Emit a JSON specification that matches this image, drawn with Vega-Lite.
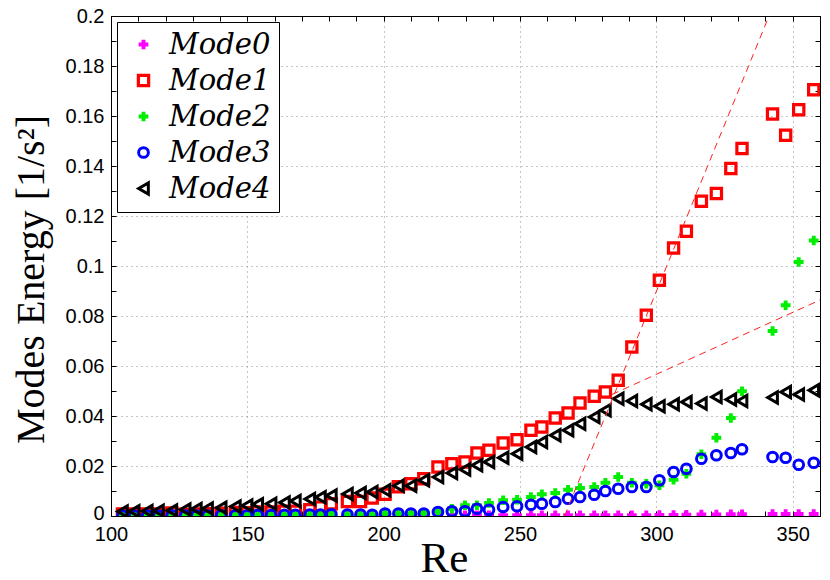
{
  "$schema": "https://vega.github.io/schema/vega-lite/v6.json",
  "width": 709,
  "height": 500,
  "autosize": "none",
  "padding": {"left": 111, "top": 16, "right": 10, "bottom": 64},
  "background": "white",
  "config": {
    "view": {"stroke": "black", "strokeWidth": 1},
    "axis": {
      "labelFont": "Liberation Sans",
      "labelFontSize": 20,
      "labelColor": "black",
      "titleFont": "Liberation Serif",
      "titleFontWeight": "normal",
      "titleColor": "black",
      "domainColor": "black",
      "tickColor": "black",
      "gridColor": "#8c8c8c",
      "gridDash": [1, 4],
      "labelOverlap": false,
      "labelFlush": false
    }
  },
  "layer": [
    {
      "data": {
        "values": [
          {"re":104.2,"mode":"Mode0","e":0.0001},{"re":108.5,"mode":"Mode0","e":0.0001},{"re":113.3,"mode":"Mode0","e":0.0001},{"re":117.4,"mode":"Mode0","e":0.0001},{"re":122.3,"mode":"Mode0","e":0.0001},{"re":127.2,"mode":"Mode0","e":0.0001},{"re":131.3,"mode":"Mode0","e":0.0001},{"re":135.4,"mode":"Mode0","e":0.0001},{"re":140.4,"mode":"Mode0","e":0.0001},{"re":145.6,"mode":"Mode0","e":0.0001},{"re":149.9,"mode":"Mode0","e":0.0001},{"re":153.8,"mode":"Mode0","e":0.0001},{"re":158.7,"mode":"Mode0","e":0.0001},{"re":163.6,"mode":"Mode0","e":0.0001},{"re":167.6,"mode":"Mode0","e":0.0001},{"re":172.9,"mode":"Mode0","e":0.0001},{"re":176.8,"mode":"Mode0","e":0.0001},{"re":180.8,"mode":"Mode0","e":0.0001},{"re":186.7,"mode":"Mode0","e":0.0001},{"re":191.5,"mode":"Mode0","e":0.0001},{"re":195.8,"mode":"Mode0","e":0.0001},{"re":200.5,"mode":"Mode0","e":0.0002},{"re":205.4,"mode":"Mode0","e":0.0002},{"re":210,"mode":"Mode0","e":0.0002},{"re":214.7,"mode":"Mode0","e":0.0002},{"re":219.9,"mode":"Mode0","e":0.0003},{"re":225,"mode":"Mode0","e":0.0003},{"re":229.8,"mode":"Mode0","e":0.0003},{"re":234.2,"mode":"Mode0","e":0.0003},{"re":238.6,"mode":"Mode0","e":0.0003},{"re":243.8,"mode":"Mode0","e":0.0003},{"re":248.9,"mode":"Mode0","e":0.0003},{"re":254,"mode":"Mode0","e":0.0003},{"re":258,"mode":"Mode0","e":0.0003},{"re":262.9,"mode":"Mode0","e":0.0003},{"re":267.6,"mode":"Mode0","e":0.0003},{"re":272,"mode":"Mode0","e":0.0003},{"re":277.2,"mode":"Mode0","e":0.0003},{"re":281.3,"mode":"Mode0","e":0.0003},{"re":286,"mode":"Mode0","e":0.0003},{"re":291,"mode":"Mode0","e":0.0003},{"re":296.3,"mode":"Mode0","e":0.0003},{"re":301.1,"mode":"Mode0","e":0.0004},{"re":306.3,"mode":"Mode0","e":0.0004},{"re":311,"mode":"Mode0","e":0.0005},{"re":316.5,"mode":"Mode0","e":0.0006},{"re":322,"mode":"Mode0","e":0.0006},{"re":327.3,"mode":"Mode0","e":0.0007},{"re":331.4,"mode":"Mode0","e":0.0007},{"re":342.6,"mode":"Mode0","e":0.0008},{"re":347.4,"mode":"Mode0","e":0.0008},{"re":352.2,"mode":"Mode0","e":0.0008},{"re":357.7,"mode":"Mode0","e":0.0008},

          {"re":104.2,"mode":"Mode1","e":0.0008},{"re":108.5,"mode":"Mode1","e":0.0008},{"re":113.3,"mode":"Mode1","e":0.0008},{"re":117.4,"mode":"Mode1","e":0.0008},{"re":122.3,"mode":"Mode1","e":0.0012},{"re":127.2,"mode":"Mode1","e":0.0007},{"re":131.3,"mode":"Mode1","e":0.0008},{"re":135.4,"mode":"Mode1","e":0.0009},{"re":140.4,"mode":"Mode1","e":0.0011},{"re":145.6,"mode":"Mode1","e":0.0014},{"re":149.9,"mode":"Mode1","e":0.0013},{"re":153.8,"mode":"Mode1","e":0.0016},{"re":158.7,"mode":"Mode1","e":0.0016},{"re":163.6,"mode":"Mode1","e":0.0019},{"re":167.6,"mode":"Mode1","e":0.0019},{"re":172.9,"mode":"Mode1","e":0.0025},{"re":176.8,"mode":"Mode1","e":0.0036},{"re":180.8,"mode":"Mode1","e":0.0049},{"re":186.7,"mode":"Mode1","e":0.0058},{"re":191.5,"mode":"Mode1","e":0.0058},{"re":195.8,"mode":"Mode1","e":0.0072},{"re":200.5,"mode":"Mode1","e":0.0087},{"re":205.4,"mode":"Mode1","e":0.0117},{"re":210,"mode":"Mode1","e":0.0129},{"re":214.7,"mode":"Mode1","e":0.0149},{"re":219.9,"mode":"Mode1","e":0.0196},{"re":225,"mode":"Mode1","e":0.0209},{"re":229.8,"mode":"Mode1","e":0.0216},{"re":234.2,"mode":"Mode1","e":0.0252},{"re":238.6,"mode":"Mode1","e":0.0263},{"re":243.8,"mode":"Mode1","e":0.0292},{"re":248.9,"mode":"Mode1","e":0.0305},{"re":254,"mode":"Mode1","e":0.0343},{"re":258,"mode":"Mode1","e":0.0356},{"re":262.9,"mode":"Mode1","e":0.0392},{"re":267.6,"mode":"Mode1","e":0.0412},{"re":272,"mode":"Mode1","e":0.0452},{"re":277.2,"mode":"Mode1","e":0.0479},{"re":281.3,"mode":"Mode1","e":0.0496},{"re":286,"mode":"Mode1","e":0.0543},{"re":291,"mode":"Mode1","e":0.0676},{"re":296.3,"mode":"Mode1","e":0.0803},{"re":301.1,"mode":"Mode1","e":0.0943},{"re":306.3,"mode":"Mode1","e":0.1072},{"re":311,"mode":"Mode1","e":0.1139},{"re":316.5,"mode":"Mode1","e":0.1259},{"re":322,"mode":"Mode1","e":0.129},{"re":327.3,"mode":"Mode1","e":0.139},{"re":331.4,"mode":"Mode1","e":0.147},{"re":342.6,"mode":"Mode1","e":0.1608},{"re":347.4,"mode":"Mode1","e":0.1523},{"re":352.2,"mode":"Mode1","e":0.1625},{"re":357.7,"mode":"Mode1","e":0.1705},

          {"re":104.2,"mode":"Mode2","e":0.0003},{"re":108.5,"mode":"Mode2","e":0.0003},{"re":113.3,"mode":"Mode2","e":0.0003},{"re":117.4,"mode":"Mode2","e":0.0003},{"re":122.3,"mode":"Mode2","e":0.0004},{"re":127.2,"mode":"Mode2","e":0.0003},{"re":131.3,"mode":"Mode2","e":0.0003},{"re":135.4,"mode":"Mode2","e":0.0003},{"re":140.4,"mode":"Mode2","e":0.0004},{"re":145.6,"mode":"Mode2","e":0.0005},{"re":149.9,"mode":"Mode2","e":0.0004},{"re":153.8,"mode":"Mode2","e":0.0005},{"re":158.7,"mode":"Mode2","e":0.0005},{"re":163.6,"mode":"Mode2","e":0.0006},{"re":167.6,"mode":"Mode2","e":0.0006},{"re":172.9,"mode":"Mode2","e":0.0006},{"re":176.8,"mode":"Mode2","e":0.0006},{"re":180.8,"mode":"Mode2","e":0.0007},{"re":186.7,"mode":"Mode2","e":0.0006},{"re":191.5,"mode":"Mode2","e":0.0006},{"re":195.8,"mode":"Mode2","e":0.0006},{"re":200.5,"mode":"Mode2","e":0.001},{"re":205.4,"mode":"Mode2","e":0.001},{"re":210,"mode":"Mode2","e":0.001},{"re":214.7,"mode":"Mode2","e":0.0012},{"re":219.9,"mode":"Mode2","e":0.0018},{"re":225,"mode":"Mode2","e":0.0029},{"re":229.8,"mode":"Mode2","e":0.0043},{"re":234.2,"mode":"Mode2","e":0.0043},{"re":238.6,"mode":"Mode2","e":0.0052},{"re":243.8,"mode":"Mode2","e":0.0063},{"re":248.9,"mode":"Mode2","e":0.0065},{"re":254,"mode":"Mode2","e":0.0076},{"re":258,"mode":"Mode2","e":0.0087},{"re":262.9,"mode":"Mode2","e":0.0092},{"re":267.6,"mode":"Mode2","e":0.0105},{"re":272,"mode":"Mode2","e":0.0112},{"re":277.2,"mode":"Mode2","e":0.0116},{"re":281.3,"mode":"Mode2","e":0.0133},{"re":286,"mode":"Mode2","e":0.0156},{"re":291,"mode":"Mode2","e":0.0133},{"re":296.3,"mode":"Mode2","e":0.0129},{"re":301.1,"mode":"Mode2","e":0.0123},{"re":306.3,"mode":"Mode2","e":0.0145},{"re":311,"mode":"Mode2","e":0.0169},{"re":316.5,"mode":"Mode2","e":0.0247},{"re":322,"mode":"Mode2","e":0.0313},{"re":327.3,"mode":"Mode2","e":0.0392},{"re":331.4,"mode":"Mode2","e":0.0499},{"re":342.6,"mode":"Mode2","e":0.074},{"re":347.4,"mode":"Mode2","e":0.0843},{"re":352.2,"mode":"Mode2","e":0.1016},{"re":357.7,"mode":"Mode2","e":0.1102},

          {"re":104.2,"mode":"Mode3","e":0.0002},{"re":108.5,"mode":"Mode3","e":0.0002},{"re":113.3,"mode":"Mode3","e":0.0002},{"re":117.4,"mode":"Mode3","e":0.0002},{"re":122.3,"mode":"Mode3","e":0.0003},{"re":127.2,"mode":"Mode3","e":0.0002},{"re":131.3,"mode":"Mode3","e":0.0002},{"re":135.4,"mode":"Mode3","e":0.0002},{"re":140.4,"mode":"Mode3","e":0.0003},{"re":145.6,"mode":"Mode3","e":0.0003},{"re":149.9,"mode":"Mode3","e":0.0003},{"re":153.8,"mode":"Mode3","e":0.0004},{"re":158.7,"mode":"Mode3","e":0.0004},{"re":163.6,"mode":"Mode3","e":0.0005},{"re":167.6,"mode":"Mode3","e":0.0005},{"re":172.9,"mode":"Mode3","e":0.0006},{"re":176.8,"mode":"Mode3","e":0.0006},{"re":180.8,"mode":"Mode3","e":0.0007},{"re":186.7,"mode":"Mode3","e":0.0006},{"re":191.5,"mode":"Mode3","e":0.0006},{"re":195.8,"mode":"Mode3","e":0.0005},{"re":200.5,"mode":"Mode3","e":0.001},{"re":205.4,"mode":"Mode3","e":0.001},{"re":210,"mode":"Mode3","e":0.001},{"re":214.7,"mode":"Mode3","e":0.001},{"re":219.9,"mode":"Mode3","e":0.0016},{"re":225,"mode":"Mode3","e":0.0019},{"re":229.8,"mode":"Mode3","e":0.0019},{"re":234.2,"mode":"Mode3","e":0.0029},{"re":238.6,"mode":"Mode3","e":0.0025},{"re":243.8,"mode":"Mode3","e":0.0036},{"re":248.9,"mode":"Mode3","e":0.0039},{"re":254,"mode":"Mode3","e":0.0045},{"re":258,"mode":"Mode3","e":0.0049},{"re":262.9,"mode":"Mode3","e":0.0056},{"re":267.6,"mode":"Mode3","e":0.0069},{"re":272,"mode":"Mode3","e":0.0076},{"re":277.2,"mode":"Mode3","e":0.0085},{"re":281.3,"mode":"Mode3","e":0.01},{"re":286,"mode":"Mode3","e":0.0109},{"re":291,"mode":"Mode3","e":0.0116},{"re":296.3,"mode":"Mode3","e":0.0116},{"re":301.1,"mode":"Mode3","e":0.0143},{"re":306.3,"mode":"Mode3","e":0.0176},{"re":311,"mode":"Mode3","e":0.0189},{"re":316.5,"mode":"Mode3","e":0.0229},{"re":322,"mode":"Mode3","e":0.0243},{"re":327.3,"mode":"Mode3","e":0.0252},{"re":331.4,"mode":"Mode3","e":0.0267},{"re":342.6,"mode":"Mode3","e":0.0236},{"re":347.4,"mode":"Mode3","e":0.0233},{"re":352.2,"mode":"Mode3","e":0.0205},{"re":357.7,"mode":"Mode3","e":0.0213},

          {"re":104.2,"mode":"Mode4","e":0.0018},{"re":108.5,"mode":"Mode4","e":0.0019},{"re":113.3,"mode":"Mode4","e":0.002},{"re":117.4,"mode":"Mode4","e":0.0021},{"re":122.3,"mode":"Mode4","e":0.0022},{"re":127.2,"mode":"Mode4","e":0.0026},{"re":131.3,"mode":"Mode4","e":0.0028},{"re":135.4,"mode":"Mode4","e":0.003},{"re":140.4,"mode":"Mode4","e":0.0033},{"re":145.6,"mode":"Mode4","e":0.0038},{"re":149.9,"mode":"Mode4","e":0.0042},{"re":153.8,"mode":"Mode4","e":0.0047},{"re":158.7,"mode":"Mode4","e":0.0049},{"re":163.6,"mode":"Mode4","e":0.0054},{"re":167.6,"mode":"Mode4","e":0.006},{"re":172.9,"mode":"Mode4","e":0.0068},{"re":176.8,"mode":"Mode4","e":0.0075},{"re":180.8,"mode":"Mode4","e":0.0082},{"re":186.7,"mode":"Mode4","e":0.0088},{"re":191.5,"mode":"Mode4","e":0.0092},{"re":195.8,"mode":"Mode4","e":0.0096},{"re":200.5,"mode":"Mode4","e":0.0103},{"re":205.4,"mode":"Mode4","e":0.0121},{"re":210,"mode":"Mode4","e":0.0121},{"re":214.7,"mode":"Mode4","e":0.0143},{"re":219.9,"mode":"Mode4","e":0.0156},{"re":225,"mode":"Mode4","e":0.0172},{"re":229.8,"mode":"Mode4","e":0.0186},{"re":234.2,"mode":"Mode4","e":0.0203},{"re":238.6,"mode":"Mode4","e":0.0216},{"re":243.8,"mode":"Mode4","e":0.0233},{"re":248.9,"mode":"Mode4","e":0.0249},{"re":254,"mode":"Mode4","e":0.0276},{"re":258,"mode":"Mode4","e":0.0296},{"re":262.9,"mode":"Mode4","e":0.0323},{"re":267.6,"mode":"Mode4","e":0.0343},{"re":272,"mode":"Mode4","e":0.0369},{"re":277.2,"mode":"Mode4","e":0.0396},{"re":281.3,"mode":"Mode4","e":0.0423},{"re":286,"mode":"Mode4","e":0.0469},{"re":291,"mode":"Mode4","e":0.046},{"re":296.3,"mode":"Mode4","e":0.0447},{"re":301.1,"mode":"Mode4","e":0.0439},{"re":306.3,"mode":"Mode4","e":0.0447},{"re":311,"mode":"Mode4","e":0.0456},{"re":316.5,"mode":"Mode4","e":0.045},{"re":322,"mode":"Mode4","e":0.0476},{"re":327.3,"mode":"Mode4","e":0.0466},{"re":331.4,"mode":"Mode4","e":0.046},{"re":342.6,"mode":"Mode4","e":0.0474},{"re":347.4,"mode":"Mode4","e":0.0496},{"re":352.2,"mode":"Mode4","e":0.0486},{"re":357.7,"mode":"Mode4","e":0.0503}
        ]
      },
      "mark": {"type": "point", "opacity": 1, "clip": true},
      "encoding": {
        "x": {
          "field": "re",
          "type": "quantitative",
          "scale": {"domain": [100, 360], "nice": false, "zero": false},
          "axis": {
            "orient": "bottom",
            "title": "Re",
            "titleFontSize": 43,
            "titleBaseline": "alphabetic",
            "titleX": 333,
            "titleY": 55,
            "values": [100,110,120,130,140,150,160,170,180,190,200,210,220,230,240,250,260,270,280,290,300,310,320,330,340,350,360],
            "labelExpr": "datum.value % 50 === 0 ? datum.label : ''",
            "tickSize": -5,
            "labelPadding": 13,
            "grid": true,
            "gridOpacity": {"condition": {"test": "datum.value % 50 === 0 && datum.value > 100 && datum.value < 360", "value": 1}, "value": 0}
          }
        },
        "y": {
          "field": "e",
          "type": "quantitative",
          "scale": {"domain": [0, 0.2], "nice": false},
          "axis": {
            "orient": "left",
            "title": "Modes Energy [1/s²]",
            "titleFontSize": 40,
            "titleBaseline": "alphabetic",
            "titleX": -68,
            "titleY": 263,
            "values": [0,0.01,0.02,0.03,0.04,0.05,0.06,0.07,0.08,0.09,0.1,0.11,0.12,0.13,0.14,0.15,0.16,0.17,0.18,0.19,0.2],
            "labelExpr": "abs(datum.value*50 - round(datum.value*50)) < 0.000001 ? format(datum.value, '~g') : ''",
            "labelOffset": {"condition": {"test": "datum.value === 0", "value": -3}, "value": 0},
            "tickSize": -5,
            "labelPadding": 12,
            "grid": true,
            "gridOpacity": {"condition": {"test": "abs(datum.value*50 - round(datum.value*50)) < 0.000001 && datum.value > 0.001 && datum.value < 0.199", "value": 1}, "value": 0}
          }
        },
        "color": {
          "field": "mode",
          "type": "nominal",
          "scale": {"domain": ["Mode0","Mode1","Mode2","Mode3","Mode4"], "range": ["#ff00ff","#ff0000","#00ee00","#0000ff","#000000"]},
          "legend": {
            "title": null,
            "orient": "none",
            "legendX": 6,
            "legendY": 6,
            "fillColor": "white",
            "strokeColor": "black",
            "padding": 8,
            "symbolOffset": 4,
            "labelOffset": 11,
            "labelFont": "DejaVu Serif",
            "labelFontStyle": "italic",
            "labelFontSize": 29,
            "labelColor": "black",
            "rowPadding": 6,
            "symbolStrokeWidth": 2.5,
            "symbolSize": 70
          }
        },
        "shape": {
          "field": "mode",
          "type": "nominal",
          "scale": {"domain": ["Mode0","Mode1","Mode2","Mode3","Mode4"], "range": ["cross","square","cross","circle","triangle-left"]}
        },
        "fill": {
          "field": "mode",
          "type": "nominal",
          "scale": {"domain": ["Mode0","Mode1","Mode2","Mode3","Mode4"], "range": ["#ff00ff","transparent","#00ee00","transparent","transparent"]}
        },
        "size": {
          "field": "mode",
          "type": "nominal",
          "scale": {"type": "ordinal", "domain": ["Mode0","Mode1","Mode2","Mode3","Mode4"], "range": [95,105,95,95,125]},
          "legend": null
        },
        "strokeWidth": {
          "field": "mode",
          "type": "nominal",
          "scale": {"type": "ordinal", "domain": ["Mode0","Mode1","Mode2","Mode3","Mode4"], "range": [0,3.2,0,3,3]},
          "legend": null
        }
      }
    },
    {
      "data": {
        "values": [
          {"line": "steep", "re": 266.3, "e": 0},
          {"line": "steep", "re": 341.3, "e": 0.2},
          {"line": "shallow", "re": 283.7, "e": 0.0486},
          {"line": "shallow", "re": 360, "e": 0.0864}
        ]
      },
      "mark": {"type": "line", "color": "#ff2020", "strokeWidth": 1, "strokeDash": [7, 5], "clip": true},
      "encoding": {
        "x": {
          "field": "re",
          "type": "quantitative",
          "axis": {
            "orient": "top",
            "title": null,
            "labels": false,
            "values": [100,110,120,130,140,150,160,170,180,190,200,210,220,230,240,250,260,270,280,290,300,310,320,330,340,350,360],
            "tickSize": -5,
            "grid": false
          }
        },
        "y": {
          "field": "e",
          "type": "quantitative",
          "axis": {
            "orient": "right",
            "title": null,
            "labels": false,
            "values": [0,0.01,0.02,0.03,0.04,0.05,0.06,0.07,0.08,0.09,0.1,0.11,0.12,0.13,0.14,0.15,0.16,0.17,0.18,0.19,0.2],
            "tickSize": -5,
            "grid": false
          }
        },
        "detail": {"field": "line", "type": "nominal"}
      }
    }
  ],
  "resolve": {"axis": {"x": "independent", "y": "independent"}}
}
